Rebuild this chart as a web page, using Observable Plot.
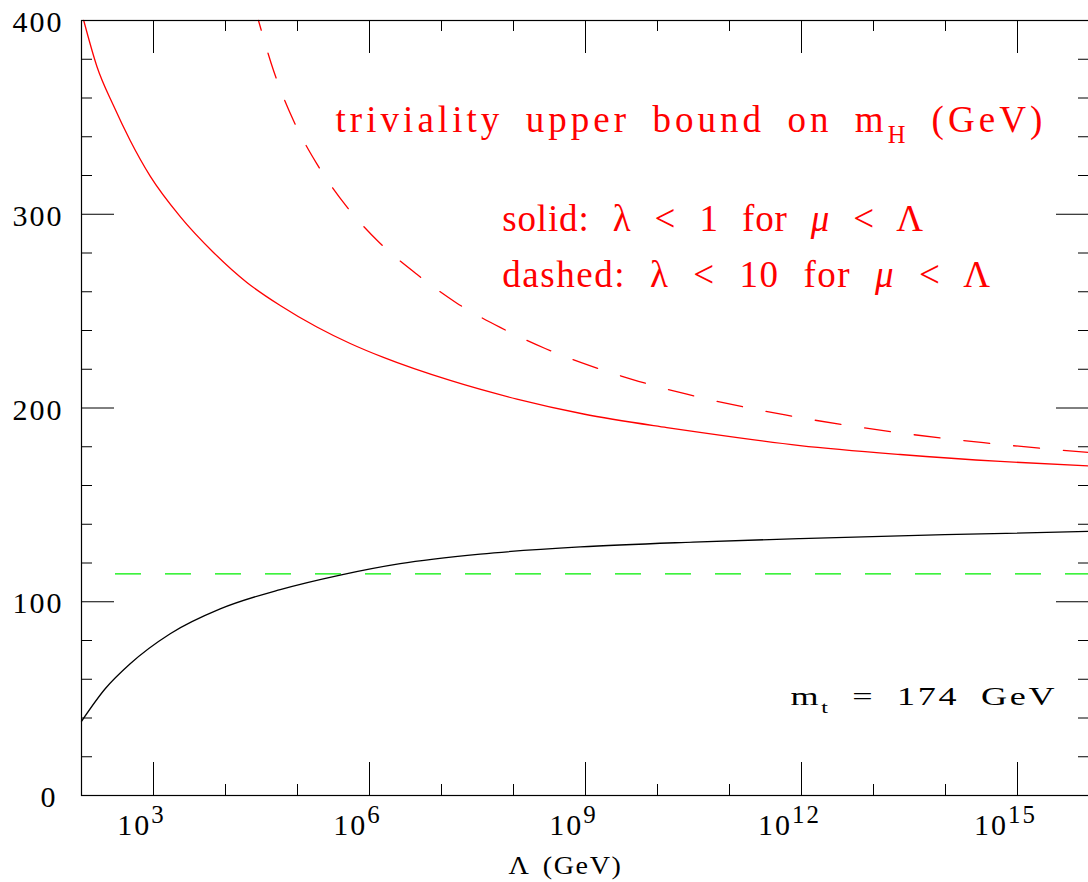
<!DOCTYPE html>
<html>
<head>
<meta charset="utf-8">
<script src="https://cdn.jsdelivr.net/npm/d3@7"></script>
<script src="https://cdn.jsdelivr.net/npm/@observablehq/plot@0.6"></script>
<style>
  html, body { margin: 0; padding: 0; background: white; overflow: hidden; }
</style>
</head>
<body>
<div id="chart"></div>
<script>
// ---------- data ----------
// log10(Λ / GeV) and m_H (GeV)
const stabilityExp = [2.0, 2.329, 2.676, 3.232, 3.926, 4.76, 5.593, 6.426, 7.537, 8.926, 10.495, 11.98, 13.99, 16.0];
const stabilityMh  = [38.3, 55.1, 68.0, 83.5, 96.3, 106.3, 113.8, 119.7, 124.6, 128.3, 130.8, 132.6, 134.6, 136.3];

const trivSolidExp = [2.031, 2.214, 2.444, 2.676, 2.954, 3.371, 3.833, 4.297, 4.76, 5.269, 5.732, 6.194, 7.121, 8.047, 8.972, 10.13, 10.59, 11.98, 13.37, 14.76, 16.0];
const trivSolidMh  = [400, 376.3, 356.1, 338.1, 319.7, 298.8, 280.3, 264.8, 252.9, 241.8, 233.3, 226.1, 214.2, 204.6, 196.9, 189.9, 187.4, 180.6, 176.0, 172.4, 170.1];

const trivDashExp = [4.458, 4.667, 4.944, 5.269, 5.454, 5.686, 6.125, 6.658, 7.214, 7.815, 8.44, 9.089, 9.736, 10.408, 11.774, 13.139, 14.528, 16.0];
const trivDashMh  = [400, 374.2, 348.4, 326.0, 315.4, 303.8, 285.8, 269.0, 254.1, 241.6, 230.7, 221.5, 213.8, 207.1, 196.4, 188.3, 182.1, 177.0];

const lepBound = [114.4];

const xMajorExp = [3, 6, 9, 12, 15];
const xMinorExp = [4, 5, 7, 8, 10, 11, 13, 14];
const yMajor = [0, 100, 200, 300, 400];
const yMinor = [20, 40, 60, 80, 120, 140, 160, 180, 220, 240, 260, 280, 320, 340, 360, 380];
const yLabels = [100, 200, 300, 400];
const yLabelZero = [0];

const xTitle = "Λ (GeV)";
const noteTitle = "triviality upper bound on m_{H} (GeV)";
const noteSolid = "solid: λ < 1 for ~{μ} < Λ";
const noteDashed = "dashed: λ < 10 for ~{μ} < Λ";
const noteTop = "m_{t} = 174 GeV";

// ---------- layout ----------
const W = 1088, H = 882;
const mL = 81, mR = -1, mT = 20, mB = 87;
const innerW = W - mL - mR, innerH = H - mT - mB;
const majorLen = 33, minorLen = 11;
const RED = "#ff0000";

const toRows = (ex, v) => ex.map((e, i) => ({lam: 10 ** e, mh: v[i]}));
const stability = toRows(stabilityExp, stabilityMh);
const trivSolid = toRows(trivSolidExp, trivSolidMh);
const trivDash = toRows(trivDashExp, trivDashMh);

let greenDash = "0 34";
for (let i = 0; i < 22; i++) greenDash += " 26 24";

const xTicks = (exps, len) => [
  Plot.tickX(exps, {x: d => 10 ** d, stroke: "black", strokeWidth: 1, insetTop: innerH - len}),
  Plot.tickX(exps, {x: d => 10 ** d, stroke: "black", strokeWidth: 1, insetBottom: innerH - len})
];
const yTicks = (vals, len) => [
  Plot.tickY(vals, {y: d => d, stroke: "black", strokeWidth: 1, insetRight: innerW - len}),
  Plot.tickY(vals, {y: d => d, stroke: "black", strokeWidth: 1, insetLeft: innerW - len})
];

const chart = Plot.plot({
  width: W, height: H,
  marginLeft: mL, marginRight: mR, marginTop: mT, marginBottom: mB,
  style: {fontFamily: "'Liberation Serif', 'DejaVu Serif', serif", background: "white", overflow: "visible"},
  x: {type: "log", domain: [1e2, 1e16], axis: null},
  y: {domain: [0, 400], axis: null},
  marks: [
    ...xTicks(xMajorExp, majorLen),
    ...xTicks(xMinorExp, minorLen),
    ...yTicks(yMajor, majorLen),
    ...yTicks(yMinor, minorLen),
    Plot.ruleY(lepBound, {stroke: "#00ee00", strokeWidth: 1.4, strokeDasharray: greenDash}),
    Plot.line(stability, {x: "lam", y: "mh", stroke: "black", strokeWidth: 1.3, curve: "monotone-x"}),
    Plot.line(trivSolid, {x: "lam", y: "mh", stroke: RED, strokeWidth: 1.3, curve: "monotone-x"}),
    Plot.line(trivDash, {x: "lam", y: "mh", stroke: RED, strokeWidth: 1.3, curve: "monotone-x",
      strokeDasharray: "26 24", strokeDashoffset: 16}),
    Plot.frame({stroke: "black", strokeWidth: 1.2}),
    // tick labels
    Plot.text(xMajorExp, {x: d => 10 ** d, text: d => `10^{${d}}`, frameAnchor: "bottom",
      lineAnchor: "bottom", textAnchor: "middle", dx: -12, dy: 39, fontSize: 30, fill: "black"}),
    Plot.text(yLabels, {y: d => d, text: d => String(d), frameAnchor: "left", textAnchor: "end",
      dx: -18, dy: 2, fontSize: 30, fill: "black"}),
    Plot.text(yLabelZero, {y: d => d, text: d => String(d), frameAnchor: "left", textAnchor: "end",
      dx: -24, dy: 2, fontSize: 30, fill: "black"}),
    // titles / notes
    Plot.text([xTitle], {frameAnchor: "top-left", textAnchor: "start", lineAnchor: "bottom",
      dx: 427, dy: 853, fontSize: 26, fill: "black"}),
    Plot.text([noteTitle], {frameAnchor: "top-left", textAnchor: "start", lineAnchor: "bottom",
      dx: 254, dy: 111.7, fontSize: 37, fill: RED}),
    Plot.text([noteSolid], {frameAnchor: "top-left", textAnchor: "start", lineAnchor: "bottom",
      dx: 420.7, dy: 210, fontSize: 37, fill: RED}),
    Plot.text([noteDashed], {frameAnchor: "top-left", textAnchor: "start", lineAnchor: "bottom",
      dx: 420.7, dy: 266, fontSize: 37, fill: RED}),
    Plot.text([noteTop], {frameAnchor: "top-left", textAnchor: "start", lineAnchor: "bottom",
      dx: 709, dy: 684.3, fontSize: 26, fill: "black"})
  ]
});

document.getElementById("chart").appendChild(chart);

// ---------- rich text: _{sub}, ^{sup}, ~{italic} ----------
const SVGNS = "http://www.w3.org/2000/svg";
function richify(svg) {
  for (const t of svg.querySelectorAll("text")) {
    const s = t.textContent;
    if (!/[_^~]\{/.test(s)) continue;
    const fs = parseFloat(getComputedStyle(t).fontSize);
    t.textContent = "";
    const re = /([_^~])\{([^}]*)\}|([^_^~]+|[_^~])/g;
    let m, shift = 0;
    while ((m = re.exec(s))) {
      const ts = document.createElementNS(SVGNS, "tspan");
      let target = 0;
      if (m[1] === "_") { ts.setAttribute("font-size", fs * 0.66); target = fs * 0.3; }
      else if (m[1] === "^") { ts.setAttribute("font-size", fs * 0.83); target = -fs * 0.37; }
      else if (m[1] === "~") { ts.setAttribute("font-style", "italic"); }
      const d = target - shift;
      if (d) ts.setAttribute("dy", d);
      shift = target;
      ts.textContent = m[1] ? m[2] : m[3];
      t.appendChild(ts);
    }
  }
}
richify(chart);

// lettering: [text, target width, lengthAdjust, letter-spacing, word-spacing]
const lettering = [
  [noteTitle, 710, "spacing", 3.2, 9],
  [noteSolid, 423, "spacing", 2.2, 13],
  [noteDashed, 490, "spacing", 2.2, 13],
  [noteTop, 267, "spacingAndGlyphs", 2, 7],
  [xTitle, 114, "spacingAndGlyphs", 1.5, 4]
];
for (const t of chart.querySelectorAll("text")) {
  let styled = false;
  for (const [k, w, adj, ls, ws] of lettering) {
    const plain = k.replace(/[_^~]\{([^}]*)\}/g, "$1");
    if (t.textContent === plain) {
      t.setAttribute("letter-spacing", ls);
      t.setAttribute("word-spacing", ws);
      t.setAttribute("textLength", w);
      t.setAttribute("lengthAdjust", adj);
      styled = true;
    }
  }
  if (!styled) t.setAttribute("letter-spacing", "2");
}
</script>
</body>
</html>
